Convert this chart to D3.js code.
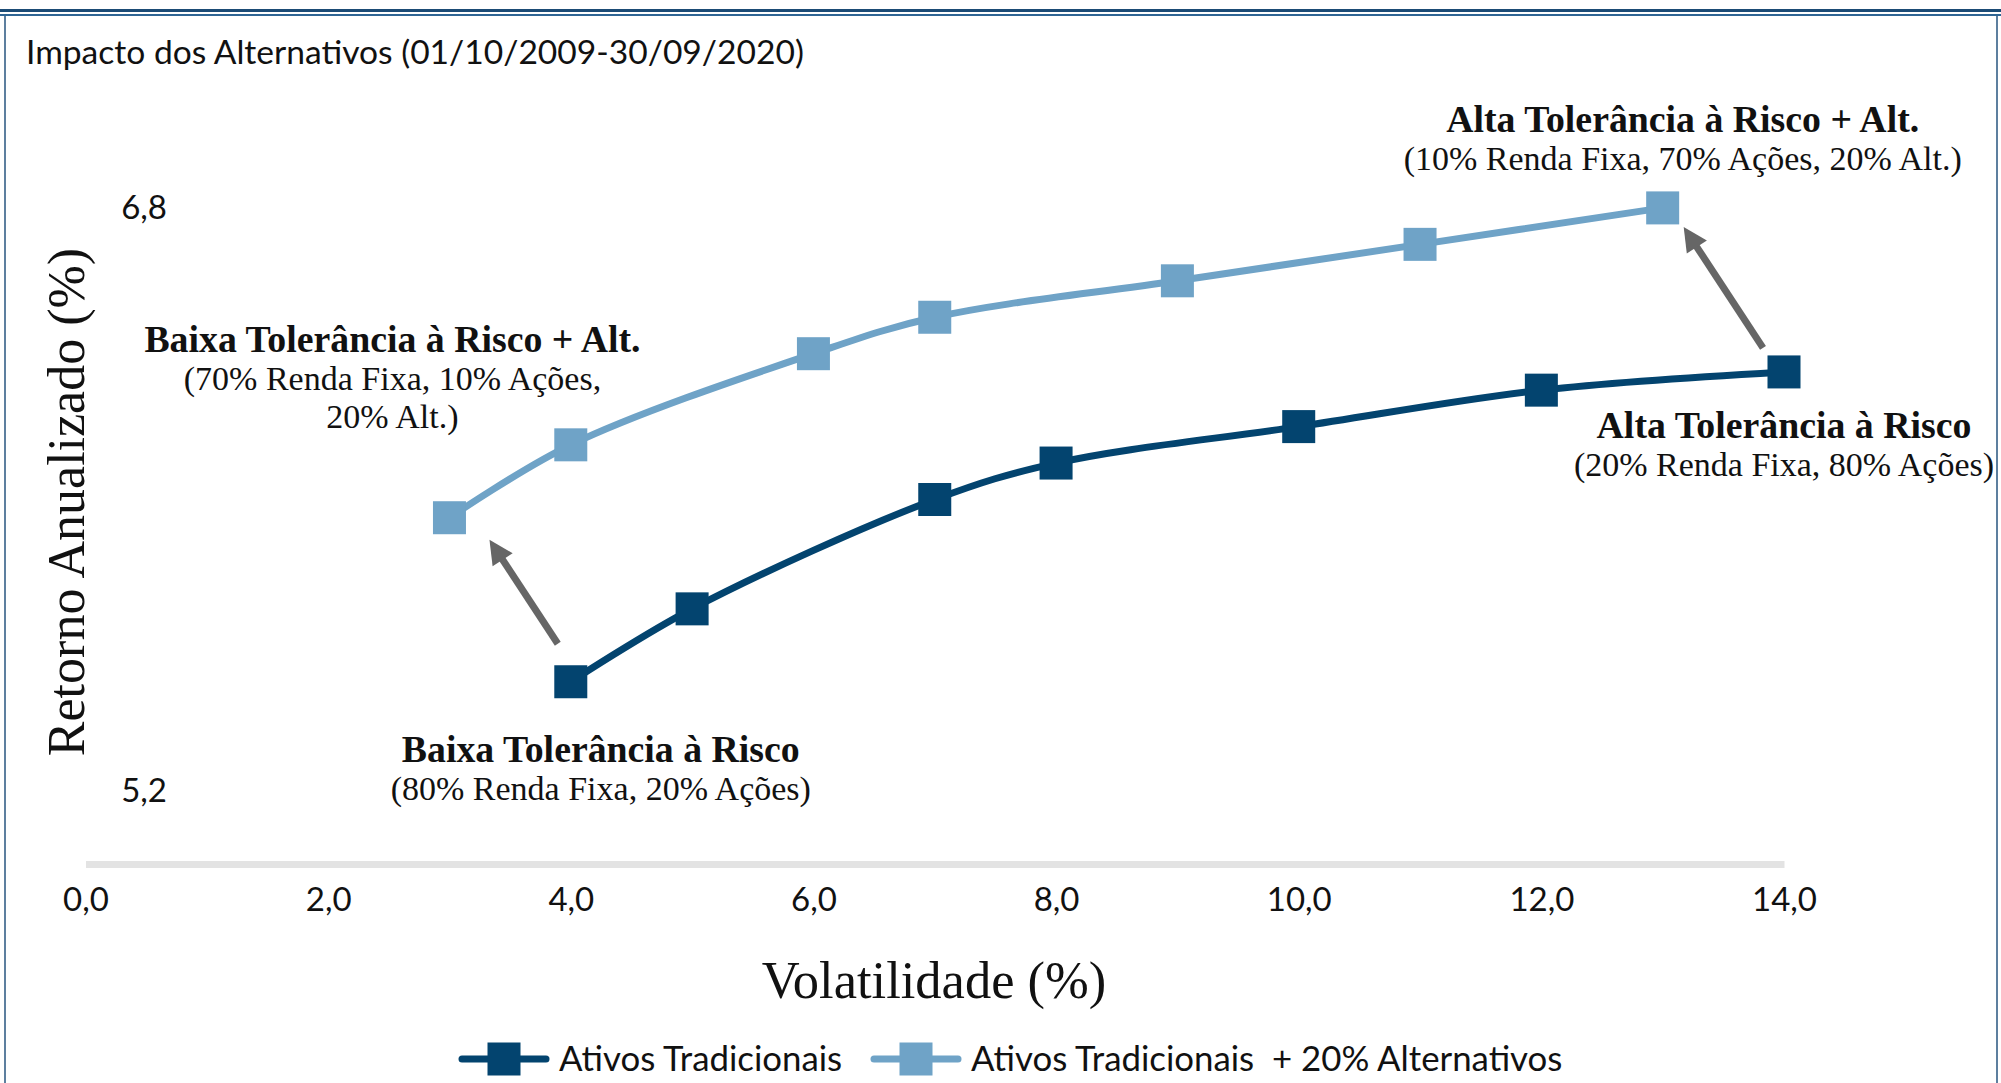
<!DOCTYPE html>
<html>
<head>
<meta charset="utf-8">
<script src="https://cdn.jsdelivr.net/npm/d3@7"></script>
<style>
body { margin:0; background:#fff; }
svg { display:block; }
</style>
</head>
<body>
<svg id="drawing_region"></svg>
<script>
// volatilidade (%) / retorno anualizado (%)
const trad_vol = [4, 5, 7, 8, 10, 12, 14];
const trad_ret = [5.50, 5.70, 6.00, 6.10, 6.20, 6.30, 6.35];
const alt_vol = [3, 4, 6, 7, 9, 11, 13];
const alt_ret = [5.95, 6.15, 6.40, 6.50, 6.60, 6.70, 6.80];

const x_ticks = [0, 2, 4, 6, 8, 10, 12, 14];
const y_ticks = [5.2, 6.8];
const series_names = ['Ativos Tradicionais', 'Ativos Tradicionais  + 20% Alternativos'];

const title = 'Impacto dos Alternativos (01/10/2009-30/09/2020)';
const x_label = 'Volatilidade (%)';
const y_label = 'Retorno Anualizado (%)';

const dark = '#03446f';
const light = '#6fa3c7';
const sans = 'Lato, "Open Sans", sans-serif';
const serif = '"Liberation Serif", "DejaVu Serif", serif';

const W = 2001, H = 1083;

const svg = d3.select('#drawing_region')
    .attr('width', W)
    .attr('height', H);

// frame
svg.append('rect').attr('x', 0).attr('y', 9).attr('width', W).attr('height', 3).attr('fill', '#1b4b75');
svg.append('rect').attr('x', 0).attr('y', 14).attr('width', W).attr('height', 2).attr('fill', '#2f6594');
svg.append('line').attr('x1', 5).attr('x2', 5).attr('y1', 16).attr('y2', H)
    .attr('stroke', '#5d7f9f').attr('stroke-width', 2);
svg.append('line').attr('x1', 1997).attr('x2', 1997).attr('y1', 16).attr('y2', H)
    .attr('stroke', '#5d7f9f').attr('stroke-width', 2);

svg.append('text')
    .attr('x', 26).attr('y', 64)
    .attr('font-family', sans).attr('font-size', 33.6)
    .attr('fill', '#111')
    .text(title);

const xscale = d3.scaleLinear().domain([0, 14]).range([85.5, 1784]);
const yscale = d3.scaleLinear().domain([5.0, 7.0]).range([864, 135]);
const fmt = v => d3.format('.1f')(v).replace('.', ',');

// x axis
const xaxis = d3.axisBottom(xscale)
    .tickValues(x_ticks)
    .tickFormat(fmt)
    .tickSize(0)
    .tickSizeOuter(0)
    .tickPadding(24);

const xg = svg.append('g')
    .attr('transform', `translate(0, ${yscale(5.0)})`)
    .call(xaxis);
xg.select('.domain').attr('stroke', '#e3e3e3').attr('stroke-width', 7);
xg.selectAll('text').attr('font-family', sans).attr('font-size', 33).attr('fill', '#111');

// y axis (labels only)
const yaxis = d3.axisLeft(yscale)
    .tickValues(y_ticks)
    .tickFormat(fmt)
    .tickSize(0)
    .tickPadding(8);

const yg = svg.append('g')
    .attr('transform', 'translate(175, 0)')
    .call(yaxis);
yg.select('.domain').remove();
yg.selectAll('text').attr('font-family', sans).attr('font-size', 33).attr('fill', '#111');

// axis titles
svg.append('text')
    .attr('x', 934).attr('y', 998)
    .attr('text-anchor', 'middle')
    .attr('font-family', serif).attr('font-size', 52.5)
    .attr('fill', '#111')
    .text(x_label);

svg.append('text')
    .attr('transform', 'translate(84, 502) rotate(-90)')
    .attr('text-anchor', 'middle')
    .attr('font-family', serif).attr('font-size', 52)
    .attr('fill', '#111')
    .text(y_label);

// series
const series = [
    { name: series_names[0], color: dark, pts: trad_vol.map((v, i) => ({ x: v, y: trad_ret[i] })) },
    { name: series_names[1], color: light, pts: alt_vol.map((v, i) => ({ x: v, y: alt_ret[i] })) }
];

const line = d3.line()
    .x(d => xscale(d.x))
    .y(d => yscale(d.y))
    .curve(d3.curveCatmullRom.alpha(0.5));

const msize = 33;

series.forEach(s => {
    svg.append('path')
        .datum(s.pts)
        .attr('d', line)
        .attr('fill', 'none')
        .attr('stroke', s.color)
        .attr('stroke-width', 7);

    svg.selectAll(null)
        .data(s.pts)
        .join('rect')
        .attr('x', d => xscale(d.x) - msize / 2)
        .attr('y', d => yscale(d.y) - msize / 2)
        .attr('width', msize)
        .attr('height', msize)
        .attr('fill', s.color);
});

// arrows from the traditional portfolio to the one with alternatives
const arrows = [
    { from: series[0].pts[0], to: series[1].pts[0], d0: [-13, -38], d1: [40, 22] },
    { from: series[0].pts[6], to: series[1].pts[6], d0: [-21, -24], d1: [21, 19] }
];

arrows.forEach(a => {
    const x0 = xscale(a.from.x) + a.d0[0], y0 = yscale(a.from.y) + a.d0[1];
    const x1 = xscale(a.to.x) + a.d1[0], y1 = yscale(a.to.y) + a.d1[1];
    const len = Math.hypot(x1 - x0, y1 - y0);
    const ux = (x1 - x0) / len, uy = (y1 - y0) / len;
    const hl = 24, hw = 12;
    const bx = x1 - ux * hl, by = y1 - uy * hl;
    svg.append('line')
        .attr('x1', x0).attr('y1', y0)
        .attr('x2', bx + ux * 2).attr('y2', by + uy * 2)
        .attr('stroke', '#666').attr('stroke-width', 7);
    svg.append('polygon')
        .attr('points', [[x1, y1], [bx - uy * hw, by + ux * hw], [bx + uy * hw, by - ux * hw]].join(' '))
        .attr('fill', '#666');
});

// annotations
const notes = [
    { pt: series[1].pts[6], dx: 20, dy: -76, lines: ['Alta Tolerância à Risco + Alt.', '(10% Renda Fixa, 70% Ações, 20% Alt.)'] },
    { pt: series[0].pts[6], dx: 0, dy: 66, lines: ['Alta Tolerância à Risco', '(20% Renda Fixa, 80% Ações)'] },
    { pt: series[1].pts[0], dx: -57, dy: -166, lines: ['Baixa Tolerância à Risco + Alt.', '(70% Renda Fixa, 10% Ações,', '20% Alt.)'] },
    { pt: series[0].pts[0], dx: 30, dy: 80, lines: ['Baixa Tolerância à Risco', '(80% Renda Fixa, 20% Ações)'] }
];

notes.forEach(n => {
    const t = svg.append('text')
        .attr('text-anchor', 'middle')
        .attr('font-family', serif)
        .attr('fill', '#111');
    n.lines.forEach((l, i) => {
        t.append('tspan')
            .attr('x', xscale(n.pt.x) + n.dx)
            .attr('y', yscale(n.pt.y) + n.dy + i * 38)
            .attr('font-weight', i === 0 ? 'bold' : 'normal')
            .attr('font-size', i === 0 ? 37.8 : 34)
            .text(l);
    });
});

// legend
const legend_x = [504, 916];
series.forEach((s, i) => {
    const g = svg.append('g').attr('transform', `translate(${legend_x[i]}, 1059)`);
    g.append('line')
        .attr('x1', -42).attr('x2', 42)
        .attr('stroke', s.color).attr('stroke-width', 7)
        .attr('stroke-linecap', 'round');
    g.append('rect')
        .attr('x', -msize / 2).attr('y', -msize / 2)
        .attr('width', msize).attr('height', msize)
        .attr('fill', s.color);
    g.append('text')
        .attr('x', 55).attr('y', 12)
        .attr('font-family', sans).attr('font-size', 34.8)
        .attr('fill', '#111')
        .style('white-space', 'pre')
        .text(s.name);
});
</script>
</body>
</html>
